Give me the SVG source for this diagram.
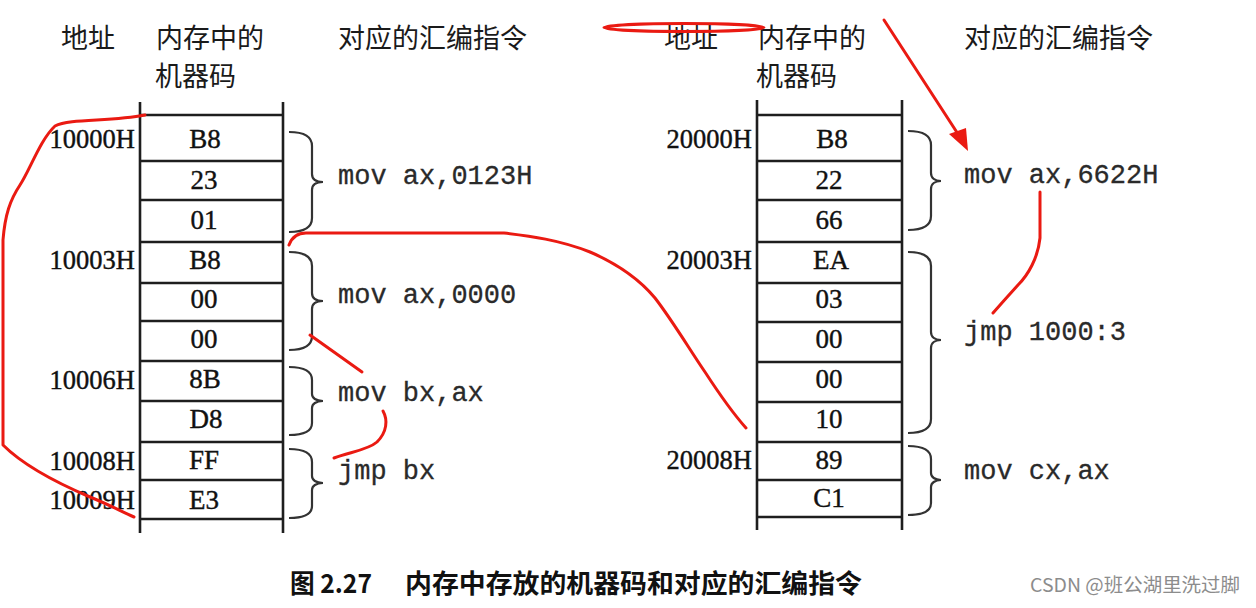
<svg xmlns="http://www.w3.org/2000/svg" width="1256" height="608" viewBox="0 0 1256 608">
<style>
.hdr{font-family:"Noto Sans CJK SC",sans-serif;font-size:27px;fill:#1a1a1a}
.addr{font-family:"Liberation Serif",serif;font-size:26.5px;fill:#111;stroke:#111;stroke-width:0.4;text-anchor:end}
.cell{font-family:"Liberation Serif",serif;font-size:27px;fill:#111;stroke:#111;stroke-width:0.4;text-anchor:middle}
.asm{font-family:"Liberation Mono",monospace;font-size:27px;fill:#2a2a2a;stroke:#2a2a2a;stroke-width:0.3}
.tl{stroke:#1e1e1e;stroke-width:2.6;fill:none}
.br{stroke:#333;stroke-width:2.2;fill:none}
.red{stroke:#ea1a12;stroke-width:3;fill:none;stroke-linecap:round;stroke-linejoin:round}
.cap{font-family:"Noto Sans CJK SC",sans-serif;font-size:26px;font-weight:bold;fill:#111}
.wm{font-family:"Noto Sans CJK SC",sans-serif;font-size:19px;fill:#8c8c8c}
</style>
<rect width="1256" height="608" fill="#fff"/>

<g id="headers">
<text class="hdr" x="61" y="48">地址</text>
<text class="hdr" x="156" y="48">内存中的</text>
<text class="hdr" x="155" y="86">机器码</text>
<text class="hdr" x="338" y="48">对应的汇编指令</text>
<text class="hdr" x="664" y="48">地址</text>
<text class="hdr" x="758" y="48">内存中的</text>
<text class="hdr" x="756" y="86">机器码</text>
<text class="hdr" x="964" y="48">对应的汇编指令</text>
</g>

<g id="left-table">
<path class="tl" d="M140,102V533M283,102V533M140,115H283M140,161H283M140,200H283M140,242H283M140,283H283M140,321H283M140,361H283M140,401H283M140,442H283M140,480H283M140,519H283"/>
<g id="L0"><text class="addr" x="135" y="148">10000H</text><text class="cell" x="205" y="148">B8</text></g>
<g id="L1"><text class="cell" x="204" y="189">23</text></g>
<g id="L2"><text class="cell" x="204" y="229">01</text></g>
<g id="L3"><text class="addr" x="135" y="269">10003H</text><text class="cell" x="205" y="269">B8</text></g>
<g id="L4"><text class="cell" x="204" y="308">00</text></g>
<g id="L5"><text class="cell" x="204" y="348">00</text></g>
<g id="L6"><text class="addr" x="135" y="389">10006H</text><text class="cell" x="205" y="388">8B</text></g>
<g id="L7"><text class="cell" x="206" y="428">D8</text></g>
<g id="L8"><text class="addr" x="135" y="470">10008H</text><text class="cell" x="204" y="469">FF</text></g>
<g id="L9"><text class="addr" x="135" y="509">10009H</text><text class="cell" x="204" y="509">E3</text></g>
</g>

<g id="right-table">
<path class="tl" d="M757,100V530M902,100V530M757,115H902M757,161H902M757,200H902M757,242H902M757,283H902M757,322H902M757,362H902M757,402H902M757,442H902M757,480H902M757,517H902"/>
<g id="R0"><text class="addr" x="752" y="148">20000H</text><text class="cell" x="832" y="148">B8</text></g>
<g id="R1"><text class="cell" x="829" y="189">22</text></g>
<g id="R2"><text class="cell" x="829" y="229">66</text></g>
<g id="R3"><text class="addr" x="752" y="269">20003H</text><text class="cell" x="831" y="269">EA</text></g>
<g id="R4"><text class="cell" x="829" y="308">03</text></g>
<g id="R5"><text class="cell" x="829" y="348">00</text></g>
<g id="R6"><text class="cell" x="829" y="388">00</text></g>
<g id="R7"><text class="cell" x="829" y="428">10</text></g>
<g id="R8"><text class="addr" x="752" y="469">20008H</text><text class="cell" x="829" y="469">89</text></g>
<g id="R9"><text class="cell" x="829" y="507">C1</text></g>
</g>

<g id="braces">
<path class="br" d="M289,132C304,132 312,136 312,146V174C312,179 316,182 323,182C316,182 312,185 312,190V218C312,228 304,232 289,232"/>
<path class="br" d="M289,252C304,252 312,256 312,266V293C312,298 316,301 323,301C316,301 312,304 312,309V336C312,346 304,350 289,350"/>
<path class="br" d="M289,367C304,367 312,371 312,380V394C312,398 316,401 323,401C316,401 312,404 312,408V423C312,431 304,435 289,435"/>
<path class="br" d="M289,449C304,449 312,453 312,462V476C312,480 316,483 323,483C316,483 312,486 312,490V506C312,514 304,518 289,518"/>
<path class="br" d="M908,131C923,131 931,135 931,145V173C931,178 935,181 941,181C935,181 931,184 931,189V216C931,226 923,230 908,230"/>
<path class="br" d="M908,252C923,252 931,256 931,266V332C931,337 935,340 941,340C935,340 931,343 931,348V419C931,429 923,433 908,433"/>
<path class="br" d="M908,446C923,446 931,450 931,459V473C931,477 935,480 941,480C935,480 931,483 931,487V503C931,511 923,515 908,515"/>
</g>

<g id="instructions">
<text class="asm" x="338" y="184">mov ax,0123H</text>
<text class="asm" x="338" y="303">mov ax,0000</text>
<text class="asm" x="338" y="401">mov bx,ax</text>
<text class="asm" x="338" y="479">jmp bx</text>
<text class="asm" x="964" y="183">mov ax,6622H</text>
<text class="asm" x="964" y="340">jmp 1000:3</text>
<text class="asm" x="964" y="479">mov cx,ax</text>
</g>

<g id="connectors">
<path class="red" d="M145,115C110,122 70,118 55,126C40,140 30,170 20,185C10,200 5,215 3,240L3,445C20,462 50,480 90,497C110,505 122,512 134,517"/>
<path class="red" d="M289,245C292,237 297,233 306,233L504,233C530,236 560,240 590,252C620,265 640,280 655,298C672,320 690,350 705,372C718,392 730,410 746,428"/>
<path class="red" d="M310,335L362,372"/>
<path class="red" d="M383,411C388,420 387,432 377,442C368,450 350,452 334,458"/>
<ellipse class="red" cx="684" cy="27.5" rx="80" ry="4" stroke-width="2.5"/>
<path class="red" d="M884,20L958,134" stroke-width="2.4"/>
<polygon points="949,134 966,128 968,151" fill="#ea1a12"/>
<path class="red" d="M1040,192L1040,238C1038,258 1028,275 1018,285C1008,296 1000,305 993,313"/>
</g>

<g id="caption">
<text class="cap" x="290" y="593" textLength="82" lengthAdjust="spacingAndGlyphs">图 2.27</text>
<text class="cap" x="405" y="593" textLength="457" lengthAdjust="spacingAndGlyphs">内存中存放的机器码和对应的汇编指令</text>
</g>
<text class="wm" x="1030" y="592" textLength="210" lengthAdjust="spacingAndGlyphs">CSDN @班公湖里洗过脚</text>
</svg>
